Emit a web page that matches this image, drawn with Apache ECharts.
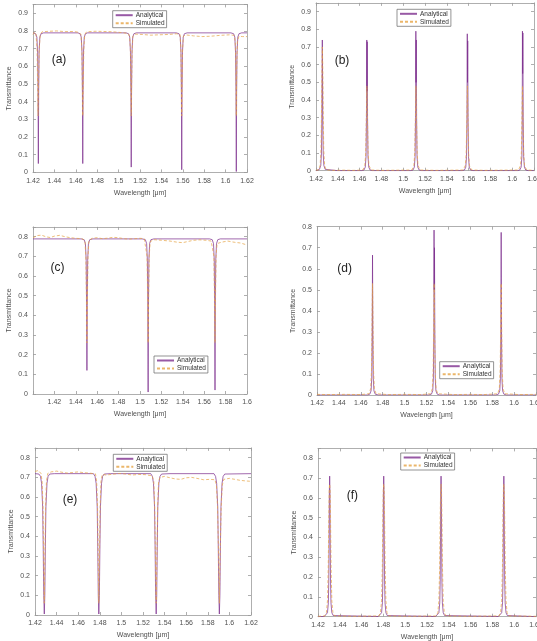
<!DOCTYPE html>
<html><head><meta charset="utf-8">
<script src="https://cdn.jsdelivr.net/npm/echarts@6/dist/echarts.min.js"></script>
<style>html,body{margin:0;padding:0;background:#fff}#c{width:537px;height:641px}</style>
</head><body><div id="c"></div>
<script>
// ---------- data (wavelength in µm, transmittance) ----------
const seriesNames = ['Analytical', 'Simulated'];
const panelTags = ['(a)', '(b)', '(c)', '(d)', '(e)', '(f)'];

const aAnalytical = [
[1.4200,0.789],[1.4210,0.788],[1.4225,0.784],[1.4236,0.765],[1.4243,0.68],[1.4247,0.45],[1.4250,0.05],[1.4253,0.45],[1.4257,0.68],[1.4264,0.765],[1.4275,0.784],[1.4300,0.789],
[1.4620,0.789],[1.4640,0.784],[1.4651,0.765],[1.4658,0.68],[1.4662,0.45],[1.4665,0.05],[1.4668,0.45],[1.4672,0.68],[1.4679,0.765],[1.4690,0.784],[1.4710,0.789],
[1.5070,0.789],[1.5093,0.784],[1.5104,0.765],[1.5111,0.68],[1.5115,0.45],[1.5118,0.03],[1.5121,0.45],[1.5125,0.68],[1.5132,0.765],[1.5143,0.784],[1.5165,0.789],
[1.5540,0.789],[1.5565,0.784],[1.5576,0.765],[1.5583,0.68],[1.5587,0.45],[1.5590,0.015],[1.5593,0.45],[1.5597,0.68],[1.5604,0.765],[1.5615,0.784],[1.5640,0.789],
[1.6050,0.789],[1.6075,0.784],[1.6086,0.765],[1.6093,0.68],[1.6097,0.45],[1.6100,0.005],[1.6103,0.45],[1.6107,0.68],[1.6114,0.765],[1.6125,0.784],[1.6150,0.789],[1.6200,0.789]
];
const aSimulated = [
[1.4200,0.780],[1.4215,0.795],[1.4228,0.780],[1.4238,0.70],[1.4243,0.50],[1.4247,0.32],[1.4252,0.50],[1.4258,0.70],[1.4268,0.78],[1.4285,0.795],[1.4350,0.798],[1.4420,0.800],[1.4500,0.796],[1.4580,0.797],[1.4630,0.792],
[1.4648,0.78],[1.4656,0.70],[1.4661,0.50],[1.4665,0.32],[1.4670,0.50],[1.4675,0.70],[1.4684,0.78],[1.4700,0.795],[1.4780,0.798],[1.4860,0.797],[1.4950,0.795],[1.5040,0.790],[1.5090,0.785],
[1.5103,0.77],[1.5110,0.70],[1.5114,0.50],[1.5118,0.32],[1.5122,0.50],[1.5127,0.70],[1.5134,0.77],[1.5150,0.782],[1.5220,0.780],[1.5300,0.776],[1.5380,0.778],[1.5470,0.780],[1.5540,0.784],
[1.5574,0.78],[1.5582,0.70],[1.5586,0.50],[1.5590,0.32],[1.5594,0.50],[1.5598,0.70],[1.5606,0.77],[1.5625,0.778],[1.5700,0.772],[1.5780,0.768],[1.5860,0.770],[1.5950,0.775],[1.6040,0.778],
[1.6080,0.775],[1.6090,0.74],[1.6096,0.60],[1.6100,0.32],[1.6104,0.60],[1.6110,0.74],[1.6125,0.77],[1.6160,0.768],[1.6200,0.768]
];

const bAnalytical = [
[1.4200,0.000],[1.4215,0.002],[1.4232,0.008],[1.4244,0.03],[1.4250,0.10],[1.4254,0.30],[1.4256,0.55],[1.4258,0.74],[1.4260,0.55],[1.4262,0.30],[1.4266,0.10],[1.4272,0.03],[1.4284,0.008],[1.4300,0.002],[1.4400,0.000],
[1.4620,0.000],[1.4640,0.004],[1.4652,0.02],[1.4659,0.08],[1.4663,0.30],[1.4666,0.74],[1.4668,0.45],[1.4670,0.73],[1.4673,0.30],[1.4677,0.08],[1.4684,0.02],[1.4696,0.004],[1.4720,0.000],
[1.5070,0.000],[1.5090,0.004],[1.5102,0.02],[1.5109,0.08],[1.5113,0.30],[1.5116,0.79],[1.5118,0.50],[1.5120,0.74],[1.5123,0.30],[1.5127,0.08],[1.5134,0.02],[1.5146,0.004],[1.5170,0.000],
[1.5540,0.000],[1.5562,0.004],[1.5574,0.02],[1.5581,0.08],[1.5585,0.30],[1.5588,0.775],[1.5590,0.50],[1.5592,0.735],[1.5595,0.30],[1.5599,0.08],[1.5606,0.02],[1.5618,0.004],[1.5640,0.000],
[1.6050,0.000],[1.6070,0.004],[1.6082,0.02],[1.6089,0.08],[1.6092,0.30],[1.6094,0.79],[1.6096,0.55],[1.6098,0.78],[1.6101,0.30],[1.6105,0.08],[1.6112,0.02],[1.6124,0.004],[1.6150,0.000],[1.6200,0.000]
];
const bSimulated = [
[1.4200,0.003],[1.4225,0.005],[1.4238,0.03],[1.4246,0.12],[1.4251,0.35],[1.4255,0.60],[1.4258,0.70],[1.4262,0.60],[1.4266,0.35],[1.4271,0.12],[1.4279,0.03],[1.4292,0.005],[1.4350,0.002],[1.4450,0.003],[1.4550,0.002],
[1.4630,0.004],[1.4648,0.03],[1.4656,0.10],[1.4662,0.30],[1.4667,0.48],[1.4672,0.30],[1.4678,0.10],[1.4686,0.03],[1.4705,0.004],[1.4800,0.002],[1.4950,0.003],
[1.5080,0.004],[1.5098,0.03],[1.5106,0.10],[1.5112,0.30],[1.5117,0.48],[1.5122,0.30],[1.5128,0.10],[1.5136,0.03],[1.5155,0.004],[1.5300,0.002],[1.5450,0.003],
[1.5550,0.004],[1.5570,0.03],[1.5578,0.10],[1.5584,0.30],[1.5589,0.48],[1.5594,0.30],[1.5600,0.10],[1.5608,0.03],[1.5627,0.004],[1.5750,0.002],[1.5900,0.003],
[1.6058,0.004],[1.6076,0.03],[1.6084,0.10],[1.6089,0.30],[1.6094,0.48],[1.6099,0.30],[1.6105,0.10],[1.6113,0.03],[1.6133,0.004],[1.6200,0.002]
];

const cAnalytical = [
[1.4000,0.789],[1.4450,0.789],[1.4478,0.785],[1.4490,0.765],[1.4497,0.68],[1.4501,0.45],[1.4504,0.12],[1.4507,0.45],[1.4511,0.68],[1.4518,0.765],[1.4530,0.785],[1.4560,0.789],
[1.5020,0.789],[1.5050,0.785],[1.5062,0.765],[1.5069,0.68],[1.5073,0.45],[1.5076,0.01],[1.5079,0.45],[1.5083,0.68],[1.5090,0.765],[1.5102,0.785],[1.5130,0.789],
[1.5650,0.789],[1.5675,0.785],[1.5687,0.765],[1.5694,0.68],[1.5698,0.45],[1.5701,0.02],[1.5704,0.45],[1.5708,0.68],[1.5715,0.765],[1.5727,0.785],[1.5750,0.789],[1.6000,0.789]
];
const cSimulated = [
[1.4000,0.795],[1.4040,0.806],[1.4080,0.808],[1.4120,0.800],[1.4160,0.796],[1.4200,0.803],[1.4250,0.807],[1.4300,0.800],[1.4350,0.795],[1.4400,0.792],[1.4460,0.790],
[1.4485,0.78],[1.4494,0.70],[1.4499,0.50],[1.4504,0.26],[1.4509,0.50],[1.4514,0.70],[1.4523,0.78],[1.4550,0.792],[1.4600,0.795],[1.4650,0.790],[1.4700,0.793],[1.4750,0.797],[1.4800,0.795],[1.4850,0.790],[1.4900,0.788],[1.4950,0.790],[1.5000,0.792],[1.5040,0.790],
[1.5058,0.78],[1.5066,0.70],[1.5071,0.50],[1.5076,0.26],[1.5081,0.50],[1.5086,0.70],[1.5095,0.775],[1.5130,0.785],[1.5200,0.782],[1.5280,0.778],[1.5350,0.772],[1.5400,0.770],[1.5450,0.776],[1.5500,0.782],[1.5560,0.784],[1.5620,0.782],[1.5665,0.778],
[1.5683,0.77],[1.5691,0.70],[1.5696,0.50],[1.5701,0.26],[1.5706,0.50],[1.5711,0.70],[1.5720,0.765],[1.5760,0.772],[1.5820,0.778],[1.5880,0.772],[1.5940,0.768],[1.6000,0.758]
];

const dAnalytical = [
[1.4200,0.000],[1.4660,0.000],[1.4682,0.004],[1.4694,0.02],[1.4700,0.08],[1.4704,0.30],[1.4707,0.665],[1.4710,0.30],[1.4714,0.08],[1.4720,0.02],[1.4732,0.004],[1.4760,0.000],
[1.5220,0.000],[1.5245,0.004],[1.5257,0.02],[1.5263,0.08],[1.5267,0.30],[1.5269,0.784],[1.5271,0.50],[1.5273,0.70],[1.5276,0.30],[1.5280,0.08],[1.5286,0.02],[1.5298,0.004],[1.5320,0.000],
[1.5830,0.000],[1.5857,0.004],[1.5869,0.02],[1.5875,0.08],[1.5879,0.30],[1.5882,0.773],[1.5885,0.30],[1.5889,0.08],[1.5895,0.02],[1.5907,0.004],[1.5930,0.000],[1.6200,0.000]
];
const dSimulated = [
[1.4200,0.003],[1.4300,0.002],[1.4450,0.003],[1.4600,0.002],[1.4675,0.006],[1.4690,0.03],[1.4698,0.12],[1.4703,0.35],[1.4707,0.53],[1.4711,0.35],[1.4716,0.12],[1.4724,0.03],[1.4740,0.006],
[1.4850,0.002],[1.5000,0.003],[1.5150,0.002],[1.5238,0.006],[1.5253,0.03],[1.5261,0.12],[1.5266,0.35],[1.5270,0.53],[1.5274,0.35],[1.5279,0.12],[1.5287,0.03],[1.5303,0.006],
[1.5450,0.002],[1.5600,0.003],[1.5725,0.002],[1.5850,0.006],[1.5865,0.03],[1.5873,0.12],[1.5878,0.35],[1.5882,0.53],[1.5886,0.35],[1.5891,0.12],[1.5899,0.03],[1.5915,0.006],[1.6050,0.002],[1.6200,0.003]
];

const eAnalytical = [
[1.4200,0.719],[1.4236,0.717],[1.4251,0.705],[1.4261,0.67],[1.4271,0.55],[1.4276,0.35],[1.4281,0.10],[1.4286,0.005],[1.4291,0.10],[1.4296,0.35],[1.4301,0.55],[1.4311,0.67],[1.4321,0.705],[1.4336,0.717],[1.4380,0.719],
[1.4741,0.719],[1.4756,0.705],[1.4766,0.67],[1.4776,0.55],[1.4781,0.35],[1.4786,0.10],[1.4791,0.005],[1.4796,0.10],[1.4801,0.35],[1.4806,0.55],[1.4816,0.67],[1.4826,0.705],[1.4841,0.717],[1.4900,0.719],
[1.5272,0.719],[1.5287,0.705],[1.5297,0.67],[1.5307,0.55],[1.5312,0.35],[1.5317,0.10],[1.5322,0.005],[1.5327,0.10],[1.5332,0.35],[1.5337,0.55],[1.5347,0.67],[1.5357,0.705],[1.5372,0.717],[1.5450,0.719],
[1.5857,0.719],[1.5872,0.705],[1.5882,0.67],[1.5892,0.55],[1.5897,0.35],[1.5902,0.10],[1.5907,0.005],[1.5912,0.10],[1.5917,0.35],[1.5922,0.55],[1.5932,0.67],[1.5942,0.705],[1.5957,0.717],[1.6200,0.719]
];
const eSimulated = [
[1.4200,0.730],[1.4230,0.735],[1.4255,0.72],[1.4266,0.68],[1.4274,0.55],[1.4280,0.30],[1.4286,0.06],[1.4292,0.30],[1.4298,0.55],[1.4306,0.68],[1.4318,0.72],[1.4350,0.728],[1.4400,0.732],[1.4450,0.726],[1.4500,0.722],[1.4550,0.725],[1.4600,0.728],[1.4650,0.724],[1.4700,0.722],[1.4760,0.718],
[1.4771,0.68],[1.4779,0.55],[1.4785,0.30],[1.4791,0.06],[1.4797,0.30],[1.4803,0.55],[1.4811,0.68],[1.4823,0.715],[1.4860,0.712],[1.4920,0.716],[1.4980,0.720],[1.5040,0.717],[1.5100,0.712],[1.5160,0.715],[1.5220,0.714],[1.5285,0.708],
[1.5300,0.68],[1.5308,0.55],[1.5315,0.30],[1.5322,0.06],[1.5329,0.30],[1.5336,0.55],[1.5344,0.68],[1.5358,0.700],[1.5400,0.705],[1.5450,0.698],[1.5500,0.692],[1.5550,0.690],[1.5600,0.698],[1.5650,0.700],[1.5700,0.695],[1.5760,0.688],[1.5820,0.690],[1.5866,0.688],
[1.5880,0.66],[1.5890,0.55],[1.5900,0.30],[1.5907,0.06],[1.5914,0.30],[1.5924,0.55],[1.5934,0.66],[1.5948,0.690],[1.6000,0.695],[1.6050,0.690],[1.6100,0.685],[1.6150,0.682],[1.6200,0.680]
];

const fAnalytical = [
[1.4200,0.000],[1.4257,0.001],[1.4275,0.006],[1.4287,0.02],[1.4295,0.07],[1.4299,0.18],[1.4302,0.40],[1.4304,0.62],[1.4307,0.71],[1.4310,0.62],[1.4312,0.40],[1.4315,0.18],[1.4319,0.07],[1.4327,0.02],[1.4339,0.006],[1.4357,0.001],
[1.4753,0.001],[1.4771,0.006],[1.4783,0.02],[1.4791,0.07],[1.4795,0.18],[1.4798,0.40],[1.4800,0.62],[1.4803,0.71],[1.4806,0.62],[1.4808,0.40],[1.4811,0.18],[1.4815,0.07],[1.4823,0.02],[1.4835,0.006],[1.4853,0.001],
[1.5279,0.001],[1.5297,0.006],[1.5309,0.02],[1.5317,0.07],[1.5321,0.18],[1.5324,0.40],[1.5326,0.62],[1.5329,0.71],[1.5332,0.62],[1.5334,0.40],[1.5337,0.18],[1.5341,0.07],[1.5349,0.02],[1.5361,0.006],[1.5379,0.001],
[1.5855,0.001],[1.5873,0.006],[1.5885,0.02],[1.5893,0.07],[1.5897,0.18],[1.5900,0.40],[1.5902,0.62],[1.5905,0.71],[1.5908,0.62],[1.5910,0.40],[1.5913,0.18],[1.5917,0.07],[1.5925,0.02],[1.5937,0.006],[1.5955,0.001],[1.6200,0.000]
];
const fSimulated = [
[1.4200,0.002],[1.4262,0.004],[1.4277,0.02],[1.4287,0.08],[1.4294,0.25],[1.4299,0.50],[1.4303,0.64],[1.4307,0.67],[1.4311,0.64],[1.4315,0.50],[1.4320,0.25],[1.4327,0.08],[1.4337,0.02],[1.4352,0.004],[1.4550,0.002],
[1.4758,0.004],[1.4773,0.02],[1.4783,0.08],[1.4790,0.25],[1.4795,0.50],[1.4799,0.64],[1.4803,0.67],[1.4807,0.64],[1.4811,0.50],[1.4816,0.25],[1.4823,0.08],[1.4833,0.02],[1.4848,0.004],[1.5050,0.002],
[1.5284,0.004],[1.5299,0.02],[1.5309,0.08],[1.5316,0.25],[1.5321,0.50],[1.5325,0.64],[1.5329,0.67],[1.5333,0.64],[1.5337,0.50],[1.5342,0.25],[1.5349,0.08],[1.5359,0.02],[1.5374,0.004],[1.5600,0.002],
[1.5860,0.004],[1.5875,0.02],[1.5885,0.08],[1.5892,0.25],[1.5897,0.50],[1.5901,0.64],[1.5905,0.67],[1.5909,0.64],[1.5913,0.50],[1.5918,0.25],[1.5925,0.08],[1.5935,0.02],[1.5950,0.004],[1.6200,0.002]
];

// ---------- layout ----------
const panels = [
  {ana:aAnalytical, sim:aSimulated, xMin:1.42, xMax:1.62, yMax:0.95, grid:{left:33, top:4.4, width:214, height:168}, legend:[112.7,10.7], tag:[59,60]},
  {ana:bAnalytical, sim:bSimulated, xMin:1.42, xMax:1.62, yMax:0.95, grid:{left:316, top:2.9, width:218, height:167.8}, legend:[397,9.3], tag:[342,61]},
  {ana:cAnalytical, sim:cSimulated, xMin:1.40, xMax:1.60, yMax:0.85, grid:{left:33, top:226.9, width:214, height:167.1}, legend:[154,356], tag:[57.5,268]},
  {ana:dAnalytical, sim:dSimulated, xMin:1.42, xMax:1.62, yMax:0.80, grid:{left:317, top:226.7, width:219, height:168.3}, legend:[439.7,361.7], tag:[344.7,269]},
  {ana:eAnalytical, sim:eSimulated, xMin:1.42, xMax:1.62, yMax:0.85, grid:{left:35, top:447.9, width:216, height:167.1}, legend:[113.3,454.3], tag:[70,500]},
  {ana:fAnalytical, sim:fSimulated, xMin:1.42, xMax:1.62, yMax:0.85, grid:{left:318, top:448.4, width:218, height:168.3}, legend:[400.7,453], tag:[352.3,496]}
];

const FONT = 'Liberation Sans, Arial, sans-serif';
const axisColor = '#9a9a9a';
const textColor = '#505050';
const anaColor = '#7E2F8E';
const simColor = '#E6A445';

const grids = [], xAxes = [], yAxes = [], series = [], legends = [], graphics = [];

panels.forEach((p, i) => {
  grids.push(Object.assign({containLabel:false, outerBoundsMode:'none'}, p.grid));
  const xFmt = v => (Math.abs(v - 1.4) < 1e-6) ? '' : String(+v.toFixed(2));
  const yFmt = v => { const r = Math.round(v * 10) / 10; return Math.abs(v - r) > 1e-6 ? '' : String(r); };
  const baseX = {
    type:'value', gridIndex:i, min:p.xMin, max:p.xMax, interval:0.02,
    axisLine:{show:true, onZero:false, lineStyle:{color:axisColor, width:0.8}},
    axisTick:{show:true, inside:true, length:3, lineStyle:{color:axisColor, width:0.8}},
    splitLine:{show:false}
  };
  xAxes.push(Object.assign({}, baseX, {
    position:'bottom',
    axisLabel:{fontSize:7, color:textColor, fontFamily:FONT, margin:5, formatter:xFmt, showMinLabel:true, showMaxLabel:true, hideOverlap:false},
    name:'Wavelength [μm]', nameLocation:'middle', nameGap:17,
    nameTextStyle:{fontSize:7, color:textColor, fontFamily:FONT}
  }));
  xAxes.push(Object.assign({}, baseX, {position:'top', axisLabel:{show:false}}));
  const baseY = {
    type:'value', gridIndex:i, min:0, max:p.yMax, interval:0.1,
    axisLine:{show:true, onZero:false, lineStyle:{color:axisColor, width:0.8}},
    axisTick:{show:true, inside:true, length:3, lineStyle:{color:axisColor, width:0.8}},
    splitLine:{show:false}
  };
  yAxes.push(Object.assign({}, baseY, {
    position:'left',
    axisLabel:{fontSize:7, color:textColor, fontFamily:FONT, margin:5, formatter:yFmt},
    name:'Transmittance', nameLocation:'middle', nameGap:20, nameRotate:90,
    nameTextStyle:{fontSize:7, color:textColor, fontFamily:FONT}
  }));
  yAxes.push(Object.assign({}, baseY, {position:'right', axisLabel:{show:false}}));

  series.push({
    name:seriesNames[0], type:'line', xAxisIndex:2*i, yAxisIndex:2*i, data:p.ana,
    showSymbol:false, symbol:'none', animation:false, z:2,
    lineStyle:{color:anaColor, width:0.9, opacity:0.8}, itemStyle:{color:anaColor}
  });
  series.push({
    name:seriesNames[1], type:'line', xAxisIndex:2*i, yAxisIndex:2*i, data:p.sim,
    showSymbol:false, symbol:'none', animation:false, z:3,
    lineStyle:{color:simColor, width:0.9, type:[3,2], opacity:0.8}, itemStyle:{color:simColor}
  });

  legends.push({
    data:seriesNames, orient:'vertical', left:p.legend[0], top:p.legend[1],
    itemWidth:17, itemHeight:6, itemGap:1, padding:[1,2,1,2],
    selectedMode:false, backgroundColor:'#fff', borderColor:'#666', borderWidth:0.7,
    itemStyle:{opacity:0, borderWidth:0},
    textStyle:{fontSize:6.5, color:'#333', fontFamily:FONT, padding:[0,0,0,-2]}
  });

  graphics.push({
    type:'text', x:p.tag[0], y:p.tag[1], z:10,
    style:{text:panelTags[i], fontSize:12, fill:'#222', fontFamily:FONT, textAlign:'center', textVerticalAlign:'middle'}
  });
});

const chart = echarts.init(document.getElementById('c'), null, {renderer:'canvas'});
chart.setOption({
  animation:false,
  backgroundColor:'#fff',
  grid:grids, xAxis:xAxes, yAxis:yAxes, series:series, legend:legends, graphic:graphics
});
</script>
</body></html>
